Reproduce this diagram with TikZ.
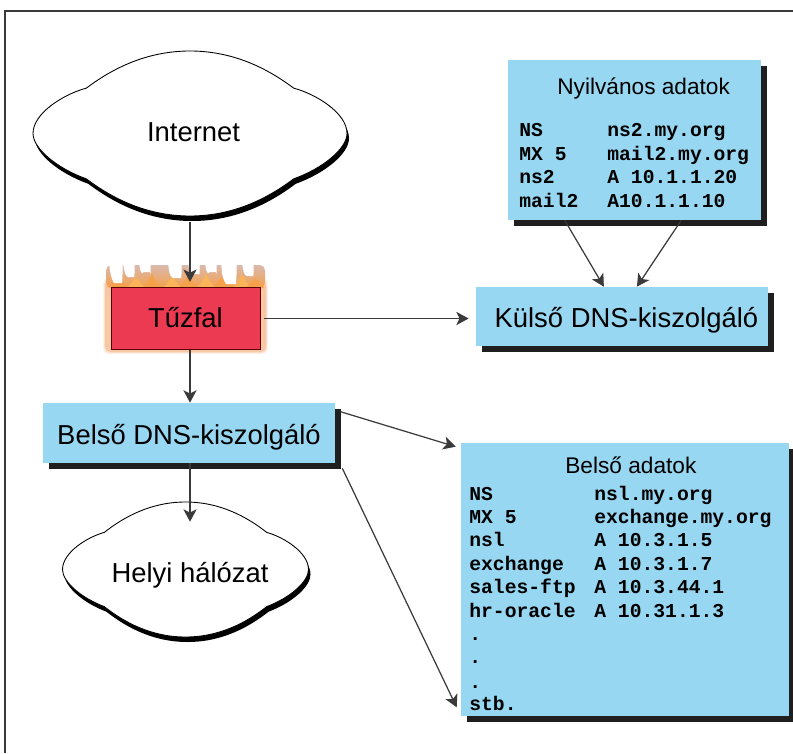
\documentclass[tikz,border=0pt]{standalone}
\usepackage{fontspec}
\setmainfont{Liberation Sans}
\setmonofont{Liberation Mono}
\usepackage{tikz}
\usetikzlibrary{calc,shadows}
\usetikzlibrary{arrows.meta}
\definecolor{dobozkek}{HTML}{98D7F2}
\definecolor{falpiros}{HTML}{EC3A52}
\definecolor{vonal}{HTML}{3A3A3A}
\definecolor{langegy}{HTML}{F5A04A}
\definecolor{langketto}{HTML}{FBB45A}
\definecolor{langhalo}{HTML}{F4BE96}
\definecolor{langfent}{HTML}{D9B9AE}
\tikzset{>={Stealth[length=7pt,width=7.5pt,inset=1.8pt]}}
\tikzset{
  felho/.style={insert path={
    (-.66,-.55) .. controls (-.5,-.78) and (-.28,-1) .. (0,-1)
    .. controls (.28,-1) and (.5,-.78) .. (.66,-.55)
    .. controls (.8,-.48) and (1,-.25) .. (1,0)
    .. controls (1,.18) and (.85,.42) .. (.66,.55)
    .. controls (.5,.78) and (.28,1) .. (0,1)
    .. controls (-.28,1) and (-.5,.78) .. (-.66,.55)
    .. controls (-.85,.42) and (-1,.18) .. (-1,0)
    .. controls (-1,-.25) and (-.8,-.48) .. (-.66,-.55) -- cycle}},
  nagybetu/.style={font=\fontsize{15.6}{18}\selectfont, inner sep=0pt},
  doboz/.style={nagybetu, fill=dobozkek, text depth=0pt,
    copy shadow={fill=black!88, draw=none, shadow xshift=.12cm, shadow yshift=-.12cm}},
  cim/.style={font=\fontsize{12.9}{15}\selectfont, anchor=base west, inner sep=0pt},
  adatsor/.style={font=\fontsize{11.2}{13}\ttfamily\bfseries\selectfont, anchor=base west, inner sep=0pt},
  nyil/.style={->, draw=vonal, line width=.7pt}
}

\begin{document}
\begin{tikzpicture}[x=.02cm,y=-.02cm]
\useasboundingbox (0,0) rectangle (793,753);

% Frame
\draw[vonal, line width=.7pt] (793,11) -- (5,11) -- (5,753);

% ---------- Clouds ----------
\fill[black, shift={(192,138.5)}, xscale=157, yscale=82.5, felho];
\draw[fill=white, line width=.5pt, line join=round, shift={(190,133.5)}, xscale=157, yscale=82.5, felho];
\fill[black, shift={(187.5,574.5)}, xscale=123, yscale=67.5, felho];
\draw[fill=white, line width=.5pt, line join=round, shift={(185.5,569.5)}, xscale=123, yscale=67.5, felho];

\node[nagybetu, minimum width=6.32cm, minimum height=3.44cm, text height=6.8pt, text depth=0pt]
  (internet) at (190,136) {\hspace*{4pt}Internet};
\node[nagybetu, minimum height=2cm, text height=11.4pt, text depth=0pt]
  (helyi) at (190,572) {Helyi hálózat};

% ---------- Flames ----------
\foreach \g/\o in {2/.2, 1/.35, 0/.7}{
  \fill[langhalo, opacity=\o, rounded corners=3pt]
    ({105-\g},{280-\g}) rectangle ({266+\g},{352+\g});
}
\shade[top color=langfent, bottom color=langegy, rounded corners=3pt] (106,265) rectangle (265,288);
\foreach \x/\t/\c in {118/276/langegy, 136/278/langketto, 152/274/langegy,
  172/277/langketto, 188/275/langegy, 206/274/langketto, 222/277/langegy,
  242/275/langketto, 255/279/langegy}{
  \fill[\c] (\x-9,288) .. controls (\x-4,283) and (\x-3,280) .. (\x,\t)
    .. controls (\x+3,280) and (\x+5,283) .. (\x+9,288) -- cycle;
}
\foreach \x/\y/\w in {118/283/4, 131/277/3, 147/272/3, 177/278/4, 196/274/3, 213/272/3, 231/284/5, 250/276/3}{
  \fill[white] (\x-\w,\y) .. controls (\x-2*\w,276) and (\x-\w-4,270) .. (\x-\w-5,262)
    -- (\x+\w+1,262) .. controls (\x+\w,272) and (\x+\w+1,278) .. (\x+\w,\y) -- cycle;
}

% ---------- Boxes ----------
\node[nagybetu, fill=falpiros, draw=black!65!red, line width=.5pt, minimum width=2.98cm, minimum height=1.24cm,
  text height=10.2pt, text depth=0pt] (tuzfal) at (185.5,318.5) {Tűzfal};
\node[doboz, minimum width=5.84cm, minimum height=1.18cm, text height=13pt]
  (kulso) at (622,316.5) {\hspace*{5pt}Külső DNS-kiszolgáló};
\node[doboz, minimum width=5.84cm, minimum height=1.2cm, text height=13.6pt]
  (belso) at (189,433) {Belső DNS-kiszolgáló};
\node[doboz, minimum width=5.06cm, minimum height=3.2cm] (nyilvanos) at (634.5,140) {};
\node[doboz, minimum width=6.56cm, minimum height=5.46cm] (belsoadat) at (625,579.5) {};

% ---------- Box texts ----------
\node[cim] (nyilcim) at (557,95) {Nyilvános adatok};
\foreach \y/\a/\b in {137/NS/ns2.my.org, 160/MX 5/mail2.my.org, 183/ns2/A 10.1.1.20, 207/mail2/A10.1.1.10}{
  \node[adatsor] (nyilbal\y) at (519,\y) {\a};
  \node[adatsor] (nyiljobb\y) at (607,\y) {\b};
}
\node[cim] (belsocim) at (565,473) {Belső adatok};
\foreach \y/\a/\b in {500/NS/nsl.my.org, 523/MX 5/exchange.my.org, 546/nsl/A 10.3.1.5,
  570/exchange/A 10.3.1.7, 593/sales-ftp/A 10.3.44.1, 617/hr-oracle/A 10.31.1.3}{
  \node[adatsor] (belsobal\y) at (469,\y) {\a};
  \node[adatsor] (belsojobb\y) at (594,\y) {\b};
}
\foreach \y/\a in {640/., 663/., 688/., 710/stb.}{
  \node[adatsor] (belsoveg\y) at (469,\y) {\a};
}

% ---------- Arrows ----------
\draw[nyil, shorten >=3pt] (internet.south) -- (internet.south |- tuzfal.north);
\draw[nyil] (internet.south |- tuzfal.south) -- (internet.south |- belso.north);
\draw[nyil] (helyi.north |- belso.south) -- (helyi.north);
\draw[nyil, shorten <=2pt, shorten >=4pt] (tuzfal.east) -- (tuzfal.east -| kulso.west);
\draw[nyil] ($(nyilvanos.south west)!.225!(nyilvanos.south east)$) -- ($(kulso.north west)!.438!(kulso.north east)$);
\draw[nyil] ($(nyilvanos.south west)!.684!(nyilvanos.south east)$) -- ($(kulso.north west)!.551!(kulso.north east)$);
\draw[nyil] ($(belso.north east)+(5,9)$) -- ($(belsoadat.north west)+(-5,4)$);
\draw[nyil] ($(belso.south east)+(7,5)$) -- ($(belsoadat.south west)+(-4,-9)$);

\end{tikzpicture}
\end{document}
